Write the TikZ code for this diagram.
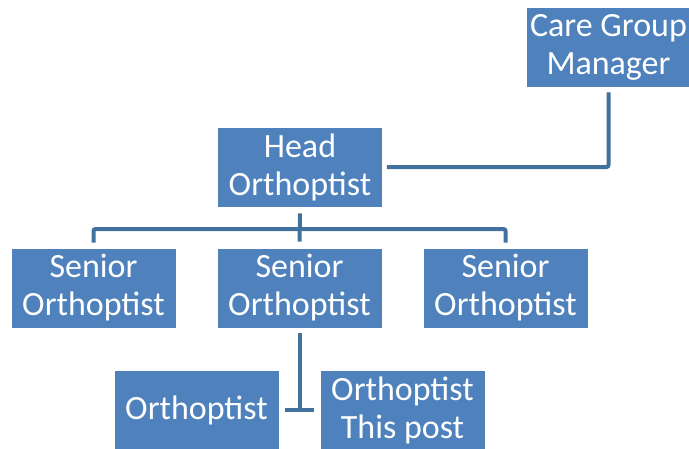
\documentclass[tikz,border=0pt]{standalone}
\usepackage{fontspec}
\setmainfont{Carlito}
\usepackage{tikz}
\usetikzlibrary{calc}

\definecolor{boxblue}{HTML}{4F81BD}
\definecolor{lineblue}{HTML}{41719C}

\begin{document}
\begin{tikzpicture}[x=1pt, y=-1pt,
	box/.style={rectangle, fill=boxblue, draw=white, line width=0.6pt,
		minimum width=165pt, minimum height=80pt, inner sep=0pt,
		align=center, text=white, font=\fontsize{34}{38}\selectfont},
	link/.style={draw=lineblue, line width=4pt, rounded corners=2pt}]

	% frame
	\useasboundingbox (0,0) rectangle (689,448);

	% boxes
	\node[box] (care) at (608.5,47) {Care Group\\Manager};
	\node[box] (head) at (300,167) {Head\\Orthoptist};
	\node[box] (senA) at (93.5,288) {Senior\\Orthoptist};
	\node[box] (senB) at (299.5,288) {Senior\\Orthoptist};
	\node[box] (senC) at (505.5,288) {Senior\\Orthoptist};
	\node[box] (orthA) at (196.5,410) {Orthoptist};
	\node[box] (orthB) at (402.5,410) {Orthoptist\\This post};

	% bus line under the head
	\coordinate (bus) at (300,229);

	% connectors
	\draw[link, shorten <=5pt, shorten >=4pt] (care.south) |- (head.east);
	\draw[link, shorten <=6pt, shorten >=6pt] (head.south) -- (senB.north);
	\draw[link, shorten <=5pt, shorten >=5pt] (senA.north) |- (bus) -| (senC.north);
	\draw[link, shorten <=5pt] (senB.south) -- (senB.south |- orthA.east);
	\draw[link, shorten <=6pt, shorten >=6pt] (orthA.east) -- (orthB.west);

\end{tikzpicture}
\end{document}
